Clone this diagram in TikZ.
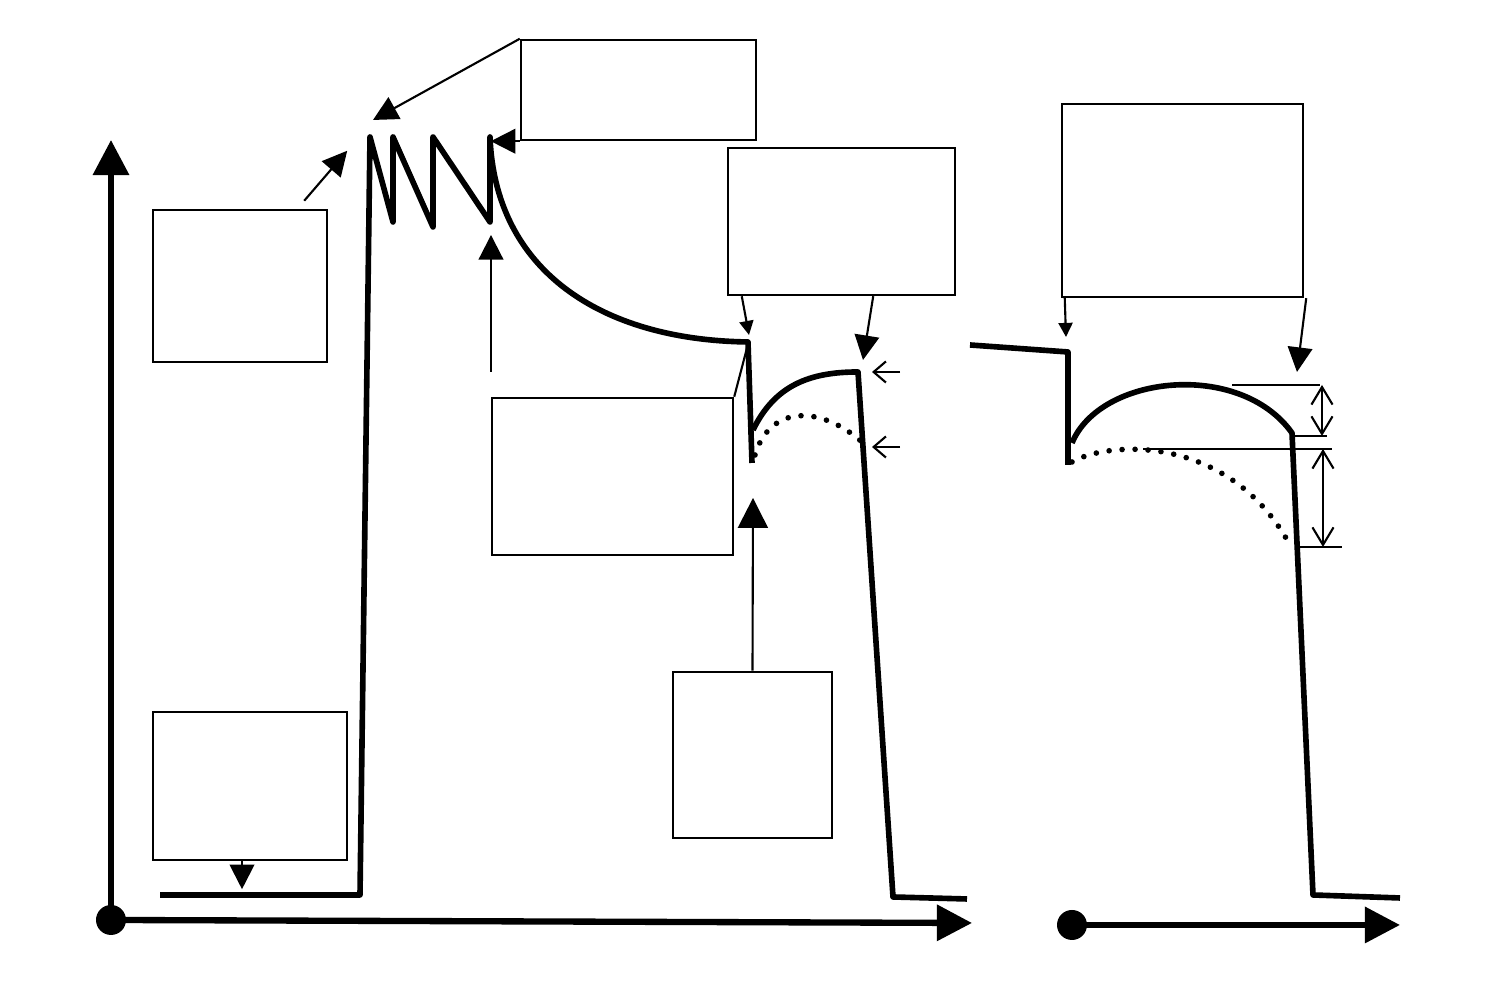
\documentclass[tikz,border=0pt]{standalone}
\usetikzlibrary{arrows.meta}
\begin{document}
\begin{tikzpicture}[
    labelbox/.style={draw, line width=0.7pt, inner sep=0pt},
    trace/.style={line width=1.6pt, line join=round},
    axis/.style={line width=1.8pt, -{Triangle[length=10pt,width=10pt]}},
    lead/.style={line width=0.6pt, -{Triangle[length=7pt,width=7pt]}},
    smalllead/.style={line width=0.6pt, -{Triangle[length=4pt,width=4pt]}},
    tick/.style={line width=0.8pt},
    dots/.style={line width=1.6pt, line cap=round, dash pattern=on 0pt off 3.7pt},
    barb/.style={line width=0.6pt, -{Straight Barb[length=3.5pt,width=6pt]}},
    dim/.style={line width=0.6pt, {Straight Barb[length=5pt,width=6pt]}-{Straight Barb[length=5pt,width=6pt]}}]
  \useasboundingbox (0,0) rectangle (15,10);
  \node[labelbox, minimum width=1.74cm, minimum height=1.52cm] (upstroke) at (2.40,7.14) {};
  \node[labelbox, minimum width=1.94cm, minimum height=1.48cm] (rest) at (2.50,2.14) {};
  \node[labelbox, minimum width=2.35cm, minimum height=1.00cm] (spikes) at (6.385,9.10) {};
  \node[labelbox, minimum width=2.41cm, minimum height=1.57cm] (plateau) at (6.125,5.235) {};
  \node[labelbox, minimum width=1.59cm, minimum height=1.66cm] (stimulus) at (7.525,2.45) {};
  \node[labelbox, minimum width=2.27cm, minimum height=1.47cm] (peakA) at (8.415,7.785) {};
  \node[labelbox, minimum width=2.41cm, minimum height=1.93cm] (peakB) at (11.825,7.995) {};
  \node[circle, fill, minimum size=0.3cm, inner sep=0pt] (originA) at (1.11,0.80) {};
  \node[circle, fill, minimum size=0.3cm, inner sep=0pt] (originB) at (10.72,0.75) {};
  \coordinate (trough) at (4.91,6.28);
  \draw[axis] (originA.center) -- (1.11,8.60);
  \draw[axis] (originA.center) -- (9.72,0.77);
  \draw[axis] (originB.center) -- (14.00,0.75);
  \draw[trace] (1.60,1.05) -- (3.60,1.05) -- (3.70,8.63) -- (3.93,7.78) -- (3.93,8.63) -- (4.33,7.73)
    -- (4.33,8.63) -- (4.90,7.78) -- (4.90,8.63) .. controls (4.95,7.3) and (6.0,6.6) .. (7.48,6.58) -- (7.52,5.37);
  \draw[trace] (7.53,5.70) .. controls (7.75,6.15) and (8.1,6.28) .. (8.58,6.28) -- (8.93,1.03) -- (9.67,1.01);
  \draw[dots] (7.55,5.45) .. controls (7.7,5.95) and (8.2,5.95) .. (8.62,5.58);
  \draw[trace] (9.70,6.55) -- (10.68,6.48) -- (10.68,5.35);
  \draw[trace] (10.72,5.57) .. controls (11.0,6.25) and (12.4,6.4) .. (12.92,5.67) -- (13.13,1.05) -- (14.00,1.02);
  \draw[dots] (10.72,5.38) .. controls (11.1,5.6) and (12.3,5.65) .. (12.90,4.55);
  \draw[lead] (upstroke.north east) ++(-0.24,0.08) -- ++(0.43,0.50);
  \draw[lead] (spikes.north west) -- (3.73,8.80);
  \draw[lead] (spikes.south west) -- ++(-0.29,0);
  \draw[lead] (trough) -- (4.91,7.65);
  \draw[lead] (rest.south) ++(-0.08,0) -- ++(0,-0.28);
  \draw[line width=0.6pt] (plateau.north east) -- (7.47,6.52);
  \draw[lead, -{Triangle[length=8.5pt,width=8.5pt]}] (stimulus.north) -- (7.53,5.02);
  \draw[smalllead] (peakA.south west) ++(0.15,0) -- (7.49,6.65);
  \draw[lead] (peakA.south east) ++(-0.83,0) -- (8.63,6.40);
  \draw[smalllead] (peakB.south west) ++(0.04,0) -- (10.66,6.63);
  \draw[lead] (peakB.south east) ++(0.02,0) -- (12.97,6.28);
  \draw[barb] (9.00,6.28) -- (8.72,6.28);
  \draw[barb] (9.00,5.53) -- (8.72,5.53);
  \draw[tick] (12.32,6.15) -- (13.20,6.15);
  \draw[tick] (12.93,5.64) -- (13.27,5.64);
  \draw[tick] (11.43,5.51) -- (13.32,5.51);
  \draw[tick] (12.97,4.53) -- (13.42,4.53);
  \draw[dim] (13.22,6.15) -- (13.22,5.64);
  \draw[dim] (13.23,5.51) -- (13.23,4.53);
\end{tikzpicture}
\end{document}
